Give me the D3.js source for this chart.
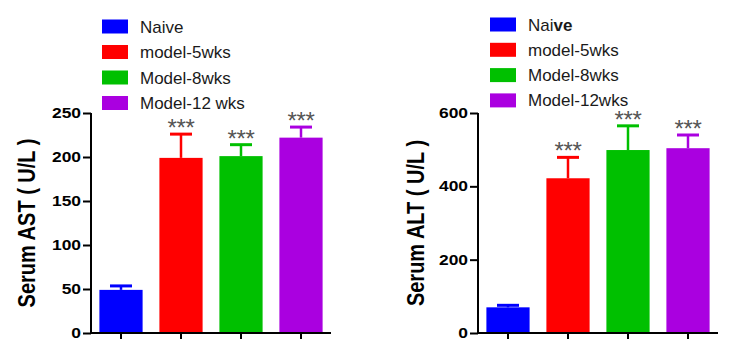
<!DOCTYPE html>
<html>
<head>
<meta charset="utf-8">
<script src="https://cdn.jsdelivr.net/npm/d3@7/dist/d3.min.js"></script>
<style>
  html, body { margin: 0; padding: 0; background: #fff; }
  svg { display: block; font-family: Arial, "Liberation Sans", sans-serif; }
</style>
</head>
<body>
<svg id="chart" width="730" height="353"></svg>
<script>
// ---- Data ----
const groups = ["Naive", "model-5wks", "Model-8wks", "Model-12wks"];
const astLegend = ["Naive", "model-5wks", "Model-8wks", "Model-12 wks"];
const altLegend = ["Naive", "model-5wks", "Model-8wks", "Model-12wks"];
const astMean = [49, 199, 201, 222];
const astErr = [4.5, 27, 13, 12];
const altMean = [70, 422, 499, 504];
const altErr = [5.5, 57, 66, 36];
const significance = ["", "***", "***", "***"];
const astTicks = [0, 50, 100, 150, 200, 250];
const altTicks = [0, 200, 400, 600];
const colors = ["#0000ff", "#ff0000", "#00c000", "#aa00e0"];

const svg = d3.select("#chart");

function panel(cfg) {
  const g = svg.append("g");
  const x = d3.scaleBand().domain(groups).range([cfg.x0, cfg.x1])
    .paddingInner(0.28).paddingOuter(0.14);
  const y = d3.scaleLinear().domain([0, cfg.max]).range([cfg.yBottom, cfg.yTop]);

  // bars
  g.selectAll("rect.bar").data(groups).join("rect")
    .attr("class", "bar")
    .attr("x", d => x(d))
    .attr("width", x.bandwidth())
    .attr("y", (d, i) => y(cfg.mean[i]))
    .attr("height", (d, i) => y(0) - y(cfg.mean[i]))
    .attr("fill", (d, i) => colors[i]);

  // error bars (upper only)
  const capW = 22;
  groups.forEach((d, i) => {
    const cx = x(d) + x.bandwidth() / 2;
    const top = y(cfg.mean[i] + cfg.err[i]);
    g.append("line").attr("x1", cx).attr("x2", cx)
      .attr("y1", y(cfg.mean[i])).attr("y2", top)
      .attr("stroke", colors[i]).attr("stroke-width", 2.5);
    g.append("line").attr("x1", cx - capW / 2).attr("x2", cx + capW / 2)
      .attr("y1", top).attr("y2", top)
      .attr("stroke", colors[i]).attr("stroke-width", 3);
    if (significance[i]) {
      g.append("text").attr("x", cx).attr("y", top + 2)
        .attr("text-anchor", "middle")
        .attr("font-size", 24).attr("fill", "#555")
        .attr("letter-spacing", -0.3)
        .text(significance[i]);
    }
  });

  // y axis
  const yAxis = d3.axisLeft(y).tickValues(cfg.ticks).tickSize(8).tickPadding(2)
    .tickFormat(d3.format("d"));
  const ya = g.append("g").attr("transform", `translate(${cfg.x0},0)`).call(yAxis);
  ya.select(".domain").attr("stroke", "#000").attr("stroke-width", 2)
    .attr("d", `M0,${cfg.yTop}V${cfg.yBottom}`);
  ya.selectAll(".tick line").attr("stroke", "#000").attr("stroke-width", 2);
  ya.selectAll(".tick text")
    .attr("font-size", 14.5).attr("font-weight", "bold").attr("fill", "#000")
    .attr("font-family", "Arial, 'Liberation Sans', sans-serif")
    .attr("x", -10 / 1.2)
    .attr("transform", "scale(1.2,1)");

  // x axis
  const xAxis = d3.axisBottom(x).tickSize(6).tickFormat("");
  const xa = g.append("g").attr("transform", `translate(0,${cfg.yBottom})`).call(xAxis);
  xa.select(".domain").attr("stroke", "#000").attr("stroke-width", 2)
    .attr("d", `M${cfg.x0 - 1},0H${cfg.x1}`);
  xa.selectAll(".tick line").attr("stroke", "#000").attr("stroke-width", 2);

  // y label
  g.append("text")
    .attr("transform", `translate(${cfg.labelX},${(cfg.yTop + cfg.yBottom) / 2}) rotate(-90) scale(1,1.2)`)
    .attr("text-anchor", "middle")
    .attr("font-size", 20).attr("font-weight", "bold").attr("fill", "#000")
    .text(cfg.label);

  // legend
  const leg = g.append("g");
  cfg.legend.forEach((name, i) => {
    const ly = cfg.legY + i * cfg.legStep;
    leg.append("rect").attr("x", cfg.legX).attr("y", ly)
      .attr("width", 26).attr("height", 14).attr("fill", colors[i]);
    const t = leg.append("text").attr("x", cfg.legX + 38).attr("y", ly + 13)
      .attr("font-size", 17).attr("fill", "#1a1a1a");
    if (cfg.boldNaive && i === 0) {
      t.append("tspan").text(name.slice(0, 3));
      t.append("tspan").attr("font-weight", "bold").text(name.slice(3));
    } else {
      t.text(name);
    }
  });
}

panel({
  x0: 91, x1: 331, yTop: 113, yBottom: 333, max: 250,
  mean: astMean, err: astErr, ticks: astTicks,
  label: "Serum AST ( U/L )", labelX: 35,
  legend: astLegend, legX: 102, legY: 19.5, legStep: 25.5, boldNaive: false
});

panel({
  x0: 478, x1: 718, yTop: 113, yBottom: 333, max: 600,
  mean: altMean, err: altErr, ticks: altTicks,
  label: "Serum ALT ( U/L )", labelX: 424,
  legend: altLegend, legX: 490, legY: 17.5, legStep: 25.3, boldNaive: true
});
</script>
</body>
</html>
